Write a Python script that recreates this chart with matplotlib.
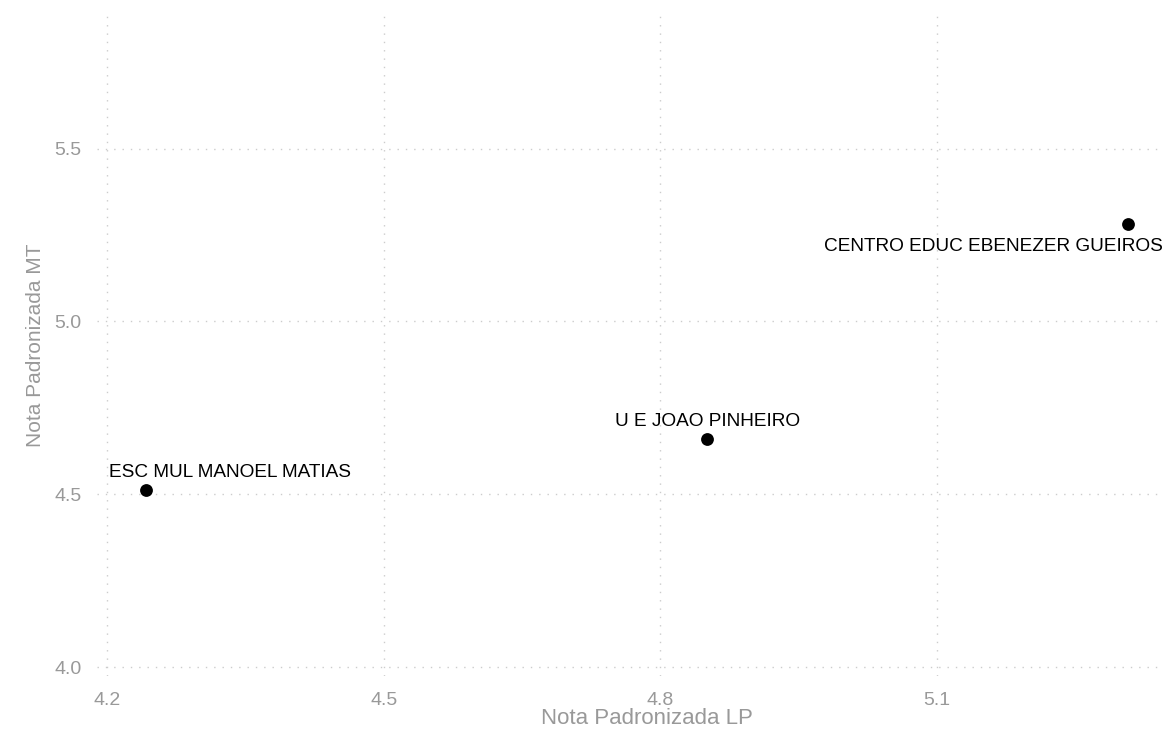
import matplotlib
matplotlib.use("Agg")
import matplotlib.pyplot as plt

schools = ["ESC MUL MANOEL MATIAS", "U E JOAO PINHEIRO", "CENTRO EDUC EBENEZER GUEIROS"]
nota_lp = [4.242, 4.851, 5.308]
nota_mt = [4.512, 4.659, 5.282]
# label placement (pixels offset from point, horizontal alignment)
label_offsets = [(84, 17.5), (0, 17.5), (34, -22)]
label_ha = ['center', 'center', 'right']

x_ticks = [4.2, 4.5, 4.8, 5.1]
y_ticks = [4.0, 4.5, 5.0, 5.5]

plt.rcParams['font.family'] = ['Liberation Sans', 'DejaVu Sans']

W, H = 1164, 735
fig = plt.figure(figsize=(W / 100, H / 100), dpi=100)
# panel extends slightly beyond the right edge (as in the reference crop)
ax = fig.add_axes([97 / W, 59 / H, (1196 - 97) / W, (676 - 15) / H])

ax.scatter(nota_lp, nota_mt, s=85, color='black', zorder=3, linewidths=0)

for name, x, y, (dx, dy), ha in zip(schools, nota_lp, nota_mt, label_offsets, label_ha):
    ax.annotate(name, (x, y), xytext=(dx * 0.72, dy * 0.72), textcoords='offset points',
                ha=ha, va='center', fontsize=13.7, color='black',
                annotation_clip=False)

ax.set_xlim(4.1888, 5.3813)
ax.set_ylim(3.974, 5.887)
ax.set_xticks(x_ticks)
ax.set_xticklabels([f"{v:.1f}" for v in x_ticks])
ax.set_yticks(y_ticks)
ax.set_yticklabels([f"{v:.1f}" for v in y_ticks])

grid_color = '#cccccc'
ax.grid(True, which='major', color=grid_color, linestyle=(0, (1, 5)), linewidth=1.0)
ax.set_axisbelow(True)
for s in ax.spines.values():
    s.set_visible(False)
ax.tick_params(axis='both', length=0, labelsize=14, labelcolor='#999999')
ax.tick_params(axis='x', pad=11.5)
ax.tick_params(axis='y', pad=11)

ax.set_xlabel("Nota Padronizada LP", fontsize=16, color='#999999', labelpad=-1)
ax.set_ylabel("Nota Padronizada MT", fontsize=15, color='#999999', labelpad=7)

fig.savefig("out.png", dpi=100, facecolor='white')
